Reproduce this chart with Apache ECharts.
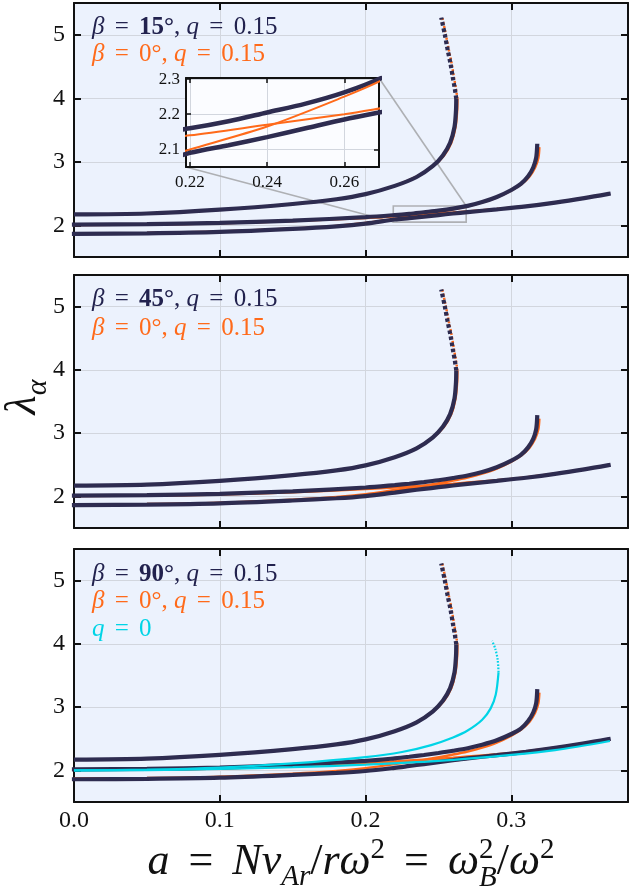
<!DOCTYPE html>
<html>
<head>
<meta charset="utf-8">
<title>λα against a</title>
<script src="https://cdn.jsdelivr.net/npm/echarts@6.0.0/dist/echarts.min.js"></script>
<style>
  html, body { margin: 0; padding: 0; background: #ffffff; }
  #chart { width: 629px; height: 894px; }
</style>
</head>
<body>
<div id="chart"></div>
<script>
// ---------- tick values ----------
const xTicks = [0, 0.1, 0.2, 0.3];
const yTicks = [2, 3, 4, 5];
const insetXTicks = [0.22, 0.24, 0.26];
const insetYTicks = [2.1, 2.2, 2.3];

// ---------- beta = 0 deg, q = 0.15 (identical in all three panels) ----------
const beta0Top = [[0,2.17],[0.05,2.185],[0.1,2.245],[0.15,2.335],[0.18,2.41],[0.2,2.49],[0.22,2.62],[0.235,2.765],[0.2465,2.935],[0.2538,3.10],[0.2588,3.30],[0.2617,3.55],[0.2628,3.80],[0.2630,3.99]];
const beta0TopUnstable = [[0.2630,3.99],[0.2620,4.15],[0.2606,4.33],[0.2590,4.55],[0.2572,4.75],[0.2549,5.02],[0.2526,5.27]];
const beta0Rising = [[0,1.87],[0.05,1.878],[0.1,1.90],[0.15,1.948],[0.18,1.99],[0.2,2.035],[0.22,2.10],[0.24,2.165],[0.26,2.25],[0.27,2.298],[0.28,2.36],[0.29,2.44],[0.30,2.55],[0.307,2.65],[0.3125,2.77],[0.3163,2.91],[0.3185,3.06],[0.3192,3.23]];
const beta0Flat = [[0,2.005],[0.05,2.012],[0.1,2.03],[0.15,2.065],[0.2,2.115],[0.22,2.14],[0.24,2.17],[0.26,2.20],[0.27,2.218],[0.29,2.255],[0.31,2.30],[0.33,2.36],[0.35,2.43],[0.3667,2.495]];

// ---------- tilted field, q = 0.15 ----------
const tiltTop = [[0,2.17],[0.05,2.185],[0.1,2.245],[0.15,2.335],[0.18,2.41],[0.2,2.49],[0.22,2.62],[0.235,2.76],[0.246,2.93],[0.253,3.10],[0.258,3.30],[0.261,3.55],[0.262,3.80],[0.2622,3.99]];
const tiltTopUnstable = [[0.2622,3.99],[0.2612,4.15],[0.2598,4.33],[0.2582,4.55],[0.2564,4.75],[0.2542,5.02],[0.2519,5.27]];

const beta15Upper = [[0,2.01],[0.05,2.017],[0.1,2.036],[0.15,2.073],[0.2,2.128],[0.22,2.16],[0.23,2.18],[0.24,2.205],[0.25,2.23],[0.26,2.262],[0.27,2.305],[0.28,2.365],[0.29,2.445],[0.30,2.555],[0.3065,2.65],[0.3115,2.77],[0.315,2.91],[0.317,3.06],[0.3177,3.25]];
const beta15Lower = [[0,1.865],[0.05,1.873],[0.1,1.895],[0.15,1.943],[0.18,1.983],[0.2,2.025],[0.22,2.09],[0.23,2.112],[0.24,2.135],[0.25,2.16],[0.26,2.185],[0.27,2.207],[0.29,2.25],[0.31,2.297],[0.33,2.357],[0.35,2.428],[0.3667,2.495]];

const beta45Upper = [[0,2.012],[0.05,2.02],[0.1,2.04],[0.15,2.08],[0.2,2.14],[0.22,2.178],[0.23,2.20],[0.24,2.226],[0.25,2.255],[0.26,2.29],[0.27,2.33],[0.28,2.385],[0.29,2.46],[0.30,2.565],[0.3065,2.655],[0.3115,2.775],[0.315,2.91],[0.317,3.06],[0.3177,3.25]];
const beta45Lower = [[0,1.862],[0.05,1.87],[0.1,1.89],[0.15,1.935],[0.18,1.97],[0.2,2.005],[0.22,2.06],[0.23,2.09],[0.24,2.118],[0.25,2.145],[0.26,2.172],[0.27,2.198],[0.29,2.245],[0.31,2.295],[0.33,2.355],[0.35,2.427],[0.3667,2.495]];

const beta90Upper = [[0,2.015],[0.05,2.023],[0.1,2.045],[0.15,2.088],[0.2,2.15],[0.22,2.19],[0.23,2.215],[0.24,2.243],[0.25,2.275],[0.26,2.31],[0.27,2.35],[0.28,2.405],[0.29,2.475],[0.30,2.575],[0.3065,2.66],[0.3115,2.78],[0.315,2.915],[0.317,3.06],[0.3177,3.25]];
const beta90Lower = [[0,1.86],[0.05,1.867],[0.1,1.885],[0.15,1.928],[0.18,1.96],[0.2,1.99],[0.22,2.04],[0.23,2.07],[0.24,2.10],[0.25,2.13],[0.26,2.16],[0.27,2.19],[0.29,2.24],[0.31,2.293],[0.33,2.355],[0.35,2.427],[0.3667,2.495]];

// ---------- q = 0 ----------
const q0Upper = [[0,2.0],[0.05,2.012],[0.1,2.045],[0.15,2.11],[0.2,2.21],[0.225,2.29],[0.245,2.40],[0.26,2.52],[0.27,2.63],[0.28,2.80],[0.2858,2.98],[0.2893,3.2],[0.2912,3.55]];
const q0UpperUnstable = [[0.2912,3.55],[0.2906,3.75],[0.2890,3.92],[0.2868,4.05]];
const q0Lower = [[0,2.0],[0.05,2.005],[0.1,2.022],[0.15,2.05],[0.2,2.09],[0.25,2.15],[0.3,2.245],[0.33,2.32],[0.3676,2.465]];

// ---------- ranges ----------
const xRange = [0, 0.38];
const yRange = [1.5, 5.5];
const insetXRange = [0.219, 0.269];
const insetYRange = [2.05, 2.303];

// ---------- styling ----------
const FONT = "'Liberation Serif', 'DejaVu Serif', serif";
const NAVY = '#2e2c50';
const NAVY_TEXT = '#22224e';
const ORANGE = '#ff6a1a';
const CYAN = '#00d4e6';
const PANEL_BG = '#ecf2fd';
const INSET_BG = '#fbfcff';
const GRID_LINE = '#d2d6de';
const FRAME = '#111111';

const PANEL_LEFT = 74, PANEL_W = 554;
const panels = [
  { top: 3,   height: 254, upper: beta15Upper, lower: beta15Lower, beta: '15°' },
  { top: 275, height: 253, upper: beta45Upper, lower: beta45Lower, beta: '45°' },
  { top: 549, height: 253, upper: beta90Upper, lower: beta90Lower, beta: '90°' }
];
const INSET = { left: 186, top: 78, width: 193, height: 89 };

const chart = echarts.init(document.getElementById('chart'), null, { renderer: 'canvas' });

function frameAxis(kind, gridIndex, position, range, ticks, showLabel, opts) {
  opts = opts || {};
  return {
    type: 'value', gridIndex, position,
    min: range[0], max: range[1],
    z: opts.z || 0,
    axisLine: { show: true, onZero: false, lineStyle: { color: FRAME, width: 2 } },
    axisTick: { show: true, inside: true, length: opts.tickLen || 7, customValues: ticks,
                lineStyle: { color: FRAME, width: opts.tickWidth || 2 } },
    axisLabel: { show: showLabel, customValues: ticks, margin: opts.margin || 8,
                 fontFamily: FONT, fontSize: opts.fontSize || 24, color: '#111',
                 formatter: opts.formatter },
    splitLine: { show: !!opts.split, lineStyle: { color: GRID_LINE, width: 1 } }
  };
}

const grids = [], xAxes = [], yAxes = [], series = [];

function addLine(axisIdx, data, color, width, dash, z, cap) {
  series.push({
    type: 'line', xAxisIndex: axisIdx, yAxisIndex: axisIdx, data,
    symbol: 'none', smooth: 0.3, z, silent: true,
    lineStyle: { color, width, type: dash || 'solid', cap: cap || 'butt' }
  });
}

panels.forEach((p, i) => {
  grids.push({ left: PANEL_LEFT, top: p.top, width: PANEL_W, height: p.height,
               show: true, backgroundColor: PANEL_BG, borderWidth: 0 });
  const last = i === panels.length - 1;
  xAxes.push(frameAxis('x', i, 'bottom', xRange, xTicks, last,
    { split: true, margin: 7, formatter: v => v.toFixed(1) }));
  yAxes.push(frameAxis('y', i, 'left', yRange, yTicks, true,
    { split: true, margin: 9, formatter: v => String(v) }));
});
panels.forEach((p, i) => {
  xAxes.push(frameAxis('x', i, 'top', xRange, xTicks, false));
  yAxes.push(frameAxis('y', i, 'right', yRange, yTicks, false));
});

// main panel curves: axis index i uses bottom/left axes of panel i
panels.forEach((p, i) => {
  addLine(i, beta0Rising, ORANGE, 2.5, 'solid', 3);
  addLine(i, beta0Flat, ORANGE, 2.5, 'solid', 3);
  addLine(i, beta0Top, ORANGE, 2.5, 'solid', 3);
  addLine(i, beta0TopUnstable, ORANGE, 2.5, [2, 2], 3);
  addLine(i, p.upper, NAVY, 4.2, 'solid', 4, 'square');
  addLine(i, p.lower, NAVY, 4.2, 'solid', 4, 'square');
  addLine(i, tiltTop, NAVY, 4.2, 'solid', 4);
  addLine(i, tiltTopUnstable, NAVY, 4.2, [3.6, 2.6], 4);
});
addLine(2, q0Upper, CYAN, 2.2, 'solid', 5);
addLine(2, q0UpperUnstable, CYAN, 2.2, [1.6, 1.6], 5);
addLine(2, q0Lower, CYAN, 2.2, 'solid', 5);

// inset (grid 3)
grids.push({ left: INSET.left, top: INSET.top, width: INSET.width, height: INSET.height,
             show: true, backgroundColor: INSET_BG, borderWidth: 0, z: 5 });
const insetIdx = xAxes.length; // 6
xAxes.push(frameAxis('x', 3, 'bottom', insetXRange, insetXTicks, true,
  { z: 5, split: true, fontSize: 17, margin: 7, tickLen: 5, tickWidth: 1.5, formatter: v => v.toFixed(2) }));
yAxes.push(frameAxis('y', 3, 'left', insetYRange, insetYTicks, true,
  { z: 5, split: true, fontSize: 17, margin: 6, tickLen: 5, tickWidth: 1.5, formatter: v => v.toFixed(1) }));
xAxes.push(frameAxis('x', 3, 'top', insetXRange, insetXTicks, false, { z: 5, tickLen: 5, tickWidth: 1.5 }));
yAxes.push(frameAxis('y', 3, 'right', insetYRange, insetYTicks, false, { z: 5, tickLen: 5, tickWidth: 1.5 }));
addLine(insetIdx, beta0Rising, ORANGE, 2, 'solid', 7);
addLine(insetIdx, beta0Flat, ORANGE, 2, 'solid', 7);
addLine(insetIdx, beta15Upper, NAVY, 4.5, 'solid', 6);
addLine(insetIdx, beta15Lower, NAVY, 4.5, 'solid', 6);

// ---------- text helpers ----------
const measureCtx = document.createElement('canvas').getContext('2d');
function cssFont(p) {
  return (p.italic ? 'italic ' : '') + (p.bold ? 'bold ' : '') + p.size + 'px ' + FONT;
}
// lays out a row of text pieces on a common baseline; returns graphic text elements
function mathRow(parts, startX, baseline, fill, z) {
  let x = startX;
  const out = [];
  parts.forEach(p => {
    measureCtx.font = cssFont(p);
    const w = measureCtx.measureText(p.t).width;
    out.push({
      type: 'text', x: x + (p.padL || 0), y: baseline + (p.dy || 0) - 0.34 * p.size, z: z || 10, silent: true,
      style: { text: p.t, fontFamily: FONT, fontSize: p.size,
               fontStyle: p.italic ? 'italic' : 'normal', fontWeight: p.bold ? 'bold' : 'normal',
               fill: p.fill || fill, align: 'left', verticalAlign: 'middle' }
    });
    if (p.advance !== 0) x += w + (p.padL || 0) + (p.padR || 0);
  });
  return { elements: out, width: x - startX };
}
function rowWidth(parts) {
  return mathRow(parts, 0, 0, '#000').width;
}

const LS = 25; // legend size
const EQ = 4;  // extra room around relation signs
function legendParts(betaText, bold) {
  return [
    { t: 'β', italic: true, size: LS },
    { t: ' = ', size: LS, padL: EQ, padR: EQ },
    { t: betaText, bold: bold, size: LS },
    { t: ', ', size: LS },
    { t: 'q', italic: true, size: LS },
    { t: ' = ', size: LS, padL: EQ, padR: EQ },
    { t: '0.15', size: LS }
  ];
}

const graphics = [];
const legendRows = [[28, 55], [300, 329], [575, 602]];
panels.forEach((p, i) => {
  graphics.push(...mathRow(legendParts(p.beta, true), 92, legendRows[i][0] + 8, NAVY_TEXT).elements);
  graphics.push(...mathRow(legendParts('0°', false), 92, legendRows[i][1] + 8, ORANGE).elements);
});
graphics.push(...mathRow([{ t: 'q', italic: true, size: LS },
                          { t: ' = ', size: LS, padL: EQ, padR: EQ },
                          { t: '0', size: LS }], 92, 630 + 8, CYAN).elements);

// x-axis title: a = N v_Ar / r ω² = ω_B² / ω²
const L = 44, S = 29, XEQ = 8;
const xTitle = [
  { t: 'a', italic: true, size: L },
  { t: ' = ', size: L, padL: XEQ, padR: XEQ },
  { t: 'N', italic: true, size: L },
  { t: 'v', italic: true, size: L },
  { t: 'Ar', italic: true, size: S, dy: 10 },
  { t: '/', size: L },
  { t: 'r', italic: true, size: L },
  { t: 'ω', italic: true, size: L },
  { t: '2', size: S, dy: -17 },
  { t: ' = ', size: L, padL: XEQ, padR: XEQ },
  { t: 'ω', italic: true, size: L },
  { t: '2', size: S, dy: -17, advance: 0 },
  { t: 'B', italic: true, size: S, dy: 11 },
  { t: '/', size: L },
  { t: 'ω', italic: true, size: L },
  { t: '2', size: S, dy: -17 }
];
const xTitleW = rowWidth(xTitle);
graphics.push(...mathRow(xTitle, 351 - xTitleW / 2, 877, '#111').elements);

// y-axis title: λ_α, rotated
const yTitle = [
  { t: 'λ', italic: true, size: 44 },
  { t: 'α', italic: true, size: 30, dy: 10 }
];
const yTitleW = rowWidth(yTitle);
graphics.push({
  type: 'group', x: 38, y: 397, rotation: Math.PI / 2, silent: true,
  children: mathRow(yTitle, -yTitleW / 2, 0, '#111').elements
});

chart.setOption({
  animation: false,
  backgroundColor: '#ffffff',
  grid: grids,
  xAxis: xAxes,
  yAxis: yAxes,
  series: series,
  graphic: graphics
});

// zoom-region outline and connector lines, placed through the axes' own scales
const rectLB = chart.convertToPixel({ gridIndex: 0 }, [insetXRange[0], insetYRange[0]]);
const rectRT = chart.convertToPixel({ gridIndex: 0 }, [insetXRange[1], insetYRange[1]]);
const insLB = chart.convertToPixel({ gridIndex: 3 }, [insetXRange[0], insetYRange[0]]);
const insRT = chart.convertToPixel({ gridIndex: 3 }, [insetXRange[1], insetYRange[1]]);
const GREY = '#aeb0b4';
graphics.push(
  { type: 'rect', z: 1, silent: true,
    shape: { x: rectLB[0], y: rectRT[1], width: rectRT[0] - rectLB[0], height: rectLB[1] - rectRT[1] },
    style: { fill: 'none', stroke: GREY, lineWidth: 1.6 } },
  { type: 'line', z: 1, silent: true,
    shape: { x1: insLB[0], y1: insLB[1], x2: rectLB[0], y2: rectLB[1] },
    style: { stroke: GREY, lineWidth: 1.6 } },
  { type: 'line', z: 1, silent: true,
    shape: { x1: insRT[0], y1: insRT[1], x2: rectRT[0], y2: rectRT[1] },
    style: { stroke: GREY, lineWidth: 1.6 } }
);
chart.setOption({ graphic: graphics }, { replaceMerge: ['graphic'] });
</script>
</body>
</html>
